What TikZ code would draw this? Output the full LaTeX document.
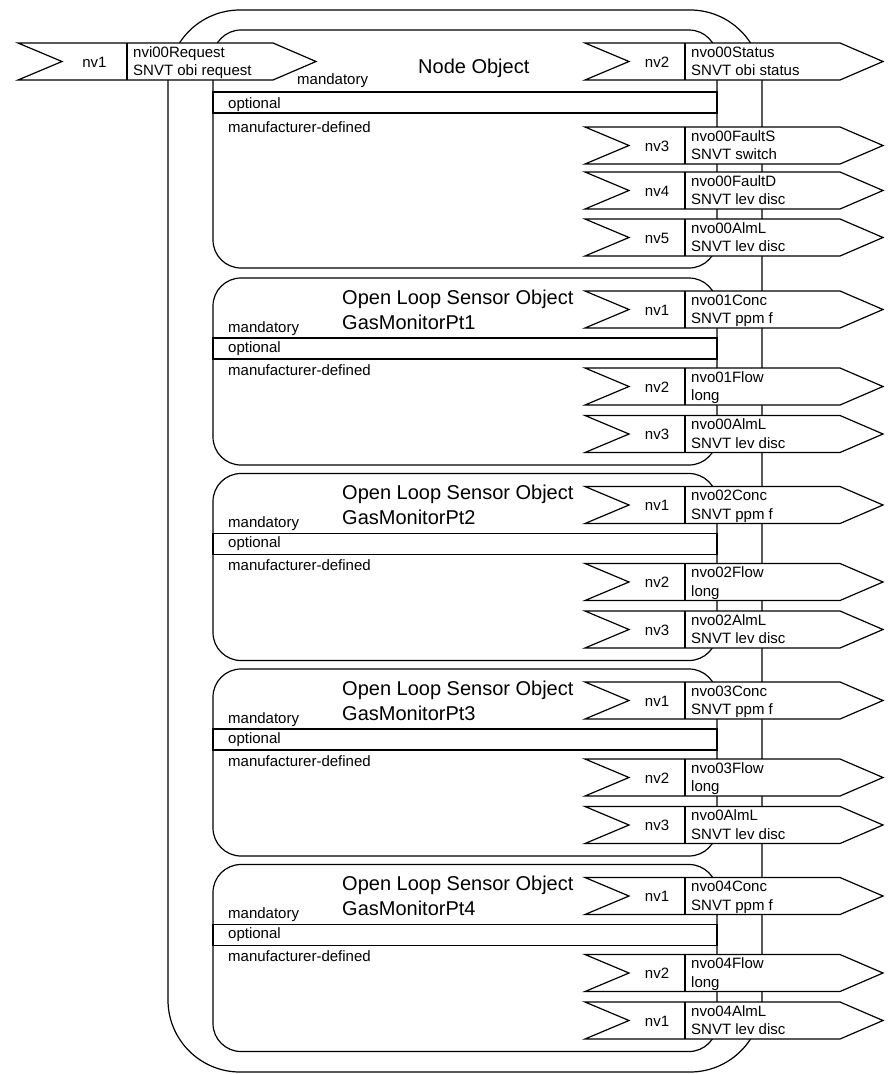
\documentclass[tikz,border=0pt]{standalone}
\usepackage{fontspec}
\setmainfont{Liberation Sans}

\tikzset{
  boxline/.style={line width=1.2pt},
  smalltext/.style={font=\fontsize{15}{18}\selectfont, inner sep=0pt, anchor=base west},
  titletext/.style={font=\fontsize{20}{24}\selectfont, inner sep=0pt, anchor=base west},
}

% network variable flag: name, x, y, divider, nv label, variable, type
\newcommand{\nvflag}[7]{%
  \filldraw[boxline, fill=white] (#2,#3) -- ++(255,0) -- ++(43,18.5)
    -- ++(-43,18.5) -- ++(-255,0) -- ++(44,-18.5) -- cycle;
  \draw[boxline] (#2+#4,#3) -- ++(0,37);
  \node[smalltext, anchor=base] (#1) at (#2+22+#4/2,#3+24) {#5};
  \node[smalltext] (#1-var) at (#2+#4+6,#3+14) {#6};
  \node[smalltext] (#1-type) at (#2+#4+6,#3+32.5) {#7};
}

\begin{document}
\begin{tikzpicture}[x=1pt, y=-1pt]
  \useasboundingbox (0,0) rectangle (894,1074);

  % Device outline
  \draw[boxline, rounded corners=72] (168,10) rectangle (762,1072);

  % Node Object
  \draw[boxline, rounded corners=28] (213,30) rectangle (717,268);
  \draw[boxline] (213,92) rectangle (717,113);
  \node[titletext] (nodeobj) at (418,73) {Node Object};
  \node[smalltext] (nodemand) at (297,84) {mandatory};
  \node[smalltext] (nodeopt) at (228,108) {optional};
  \node[smalltext] (nodemfr) at (228,132) {manufacturer-defined};

  \nvflag{request}{18}{43}{109}{nv1}{nvi00Request}{SNVT obi request}
  \nvflag{status}{585}{43}{100}{nv2}{nvo00Status}{SNVT obi status}
  \nvflag{faults}{585}{127}{100}{nv3}{nvo00FaultS}{SNVT switch}
  \nvflag{faultd}{585}{172}{100}{nv4}{nvo00FaultD}{SNVT lev disc}
  \nvflag{alarm}{585}{219}{100}{nv5}{nvo00AlmL}{SNVT lev disc}

  % Open Loop Sensor Objects
  \foreach \i/\T/\alm/\almnv in {1/278/nvo00AlmL/nv3, 2/473.5/nvo02AlmL/nv3,
      3/669/nvo0AlmL/nv3, 4/864.5/nvo04AlmL/nv1} {
    \draw[boxline, rounded corners=28] (213,\T) rectangle (717,\T+187);
    \draw[boxline] (213,\T+60) rectangle (717,\T+81);
    \node[titletext] (sens\i) at (342,\T+26) {Open Loop Sensor Object};
    \node[titletext] (sens\i-name) at (342,\T+51) {GasMonitorPt\i};
    \node[smalltext] (sens\i-mand) at (228,\T+54) {mandatory};
    \node[smalltext] (sens\i-opt) at (228,\T+74) {optional};
    \node[smalltext] (sens\i-mfr) at (228,\T+97) {manufacturer-defined};

    \nvflag{conc\i}{585}{\T+13}{100}{nv1}{nvo0\i Conc}{SNVT ppm f}
    \nvflag{flow\i}{585}{\T+90}{100}{nv2}{nvo0\i Flow}{long}
    \nvflag{alml\i}{585}{\T+137.5}{100}{\almnv}{\alm}{SNVT lev disc}
  }
\end{tikzpicture}
\end{document}
